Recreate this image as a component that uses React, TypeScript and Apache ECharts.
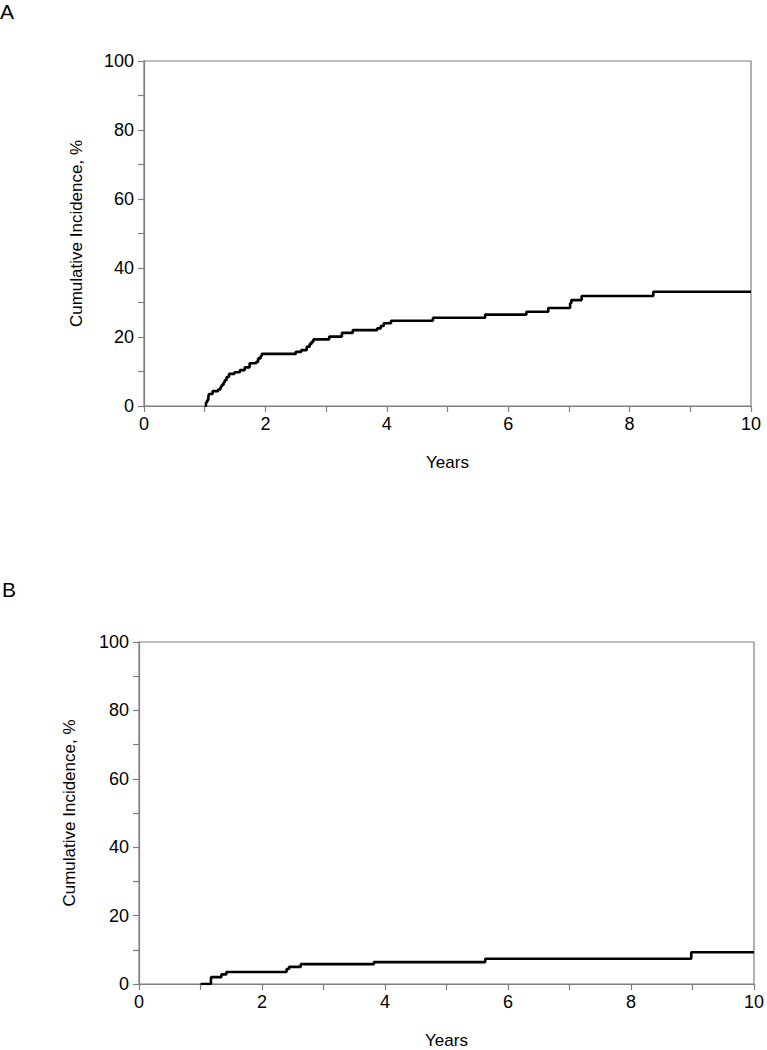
import React, { useEffect, useRef } from "react";
import * as echarts from "echarts";

// Panel A: cumulative incidence (time in years, % after each step)
const yearsA = [1.0, 1.02, 1.04, 1.06, 1.07, 1.13, 1.22, 1.26, 1.28, 1.31, 1.33, 1.36, 1.4, 1.49, 1.58, 1.66, 1.74, 1.85, 1.88, 1.92, 1.94, 2.5, 2.59, 2.68, 2.73, 2.76, 2.79, 3.05, 3.26, 3.44, 3.84, 3.9, 3.95, 4.07, 4.76, 5.62, 6.3, 6.66, 7.02, 7.04, 7.21, 8.39, 10.0];
const pctA = [0, 1.0, 1.7, 2.6, 3.5, 4.3, 4.8, 5.5, 6.1, 6.8, 7.5, 8.4, 9.3, 9.8, 10.4, 11.2, 12.4, 12.8, 13.8, 14.4, 15.1, 15.7, 16.2, 17.2, 18.0, 18.6, 19.3, 20.1, 21.2, 22.0, 22.5, 23.2, 24.0, 24.7, 25.6, 26.5, 27.3, 28.4, 29.8, 30.7, 31.9, 33.1, 33.1];

// Panel B
const yearsB = [1.0, 1.17, 1.34, 1.42, 2.4, 2.44, 2.63, 3.82, 5.63, 8.98, 10.0];
const pctB = [0, 2.0, 2.8, 3.5, 4.4, 5.0, 5.8, 6.4, 7.4, 9.3, 9.3];

const xTicks = [0, 2, 4, 6, 8, 10];
const yTicks = [0, 20, 40, 60, 80, 100];
const xName = "Years";
const yName = "Cumulative Incidence, %";
const panelLabels = ["A", "B"];

const FONT = "'Liberation Sans', Arial, Helvetica, sans-serif";
const AXIS_GRAY = "#7f7f7f";

function makeX(gridIndex: number) {
  return {
    type: "value",
    gridIndex,
    min: xTicks[0],
    max: xTicks[xTicks.length - 1],
    interval: 2,
    name: xName,
    nameLocation: "middle",
    nameGap: 48,
    nameTextStyle: { color: "#000", fontSize: 17, fontFamily: FONT },
    axisLine: { show: true, onZero: false, lineStyle: { color: AXIS_GRAY, width: 1.2 } },
    axisTick: { show: true, inside: false, length: 6, lineStyle: { color: AXIS_GRAY, width: 1.2 } },
    minorTick: { show: true, splitNumber: 2, length: 6, lineStyle: { color: AXIS_GRAY, width: 1.2 } },
    axisLabel: { color: "#000", fontSize: 18, fontFamily: FONT, margin: 9 },
    splitLine: { show: false },
  };
}

function makeY(gridIndex: number, nameGap: number) {
  return {
    type: "value",
    gridIndex,
    min: yTicks[0],
    max: yTicks[yTicks.length - 1],
    interval: 20,
    name: yName,
    nameLocation: "middle",
    nameRotate: 90,
    nameGap,
    nameTextStyle: { color: "#000", fontSize: 17, fontFamily: FONT },
    axisLine: { show: true, lineStyle: { color: AXIS_GRAY, width: 1.2 } },
    axisTick: { show: true, inside: false, length: 6, lineStyle: { color: AXIS_GRAY, width: 1.2 } },
    minorTick: { show: true, splitNumber: 2, length: 6, lineStyle: { color: AXIS_GRAY, width: 1.2 } },
    axisLabel: { color: "#000", fontSize: 18, fontFamily: FONT, margin: 10 },
    splitLine: { show: false },
  };
}

export default function App() {
  const ref = useRef<HTMLDivElement>(null);
  useEffect(() => {
    document.body.style.margin = "0";
    if (!ref.current) return;
    const chart = echarts.init(ref.current, undefined, { renderer: "svg" });
    chart.setOption({
      animation: false,
      backgroundColor: "#fff",
      textStyle: { fontFamily: FONT },
      grid: [
        { left: 144, top: 61, width: 607, height: 345, show: true, borderColor: AXIS_GRAY, borderWidth: 1.2, backgroundColor: "transparent" },
        { left: 139, top: 642, width: 617, height: 343, show: true, borderColor: AXIS_GRAY, borderWidth: 1.2, backgroundColor: "transparent" },
      ],
      xAxis: [makeX(0), makeX(1)],
      yAxis: [makeY(0, 59), makeY(1, 61)],
      graphic: [
        { type: "text", left: 0, top: 1, style: { text: panelLabels[0], fontSize: 21, fontFamily: FONT, fill: "#000" } },
        { type: "text", left: 2, top: 579, style: { text: panelLabels[1], fontSize: 21, fontFamily: FONT, fill: "#000" } },
      ],
      series: [
        {
          type: "line",
          xAxisIndex: 0,
          yAxisIndex: 0,
          step: "end",
          showSymbol: false,
          lineStyle: { color: "#000", width: 2.6 },
          data: yearsA.map((t, i) => [t, pctA[i]]),
        },
        {
          type: "line",
          xAxisIndex: 1,
          yAxisIndex: 1,
          step: "end",
          showSymbol: false,
          lineStyle: { color: "#000", width: 2.6 },
          data: yearsB.map((t, i) => [t, pctB[i]]),
        },
      ],
    });
    return () => chart.dispose();
  }, []);
  return <div ref={ref} style={{ width: 767, height: 1050 }} />;
}
